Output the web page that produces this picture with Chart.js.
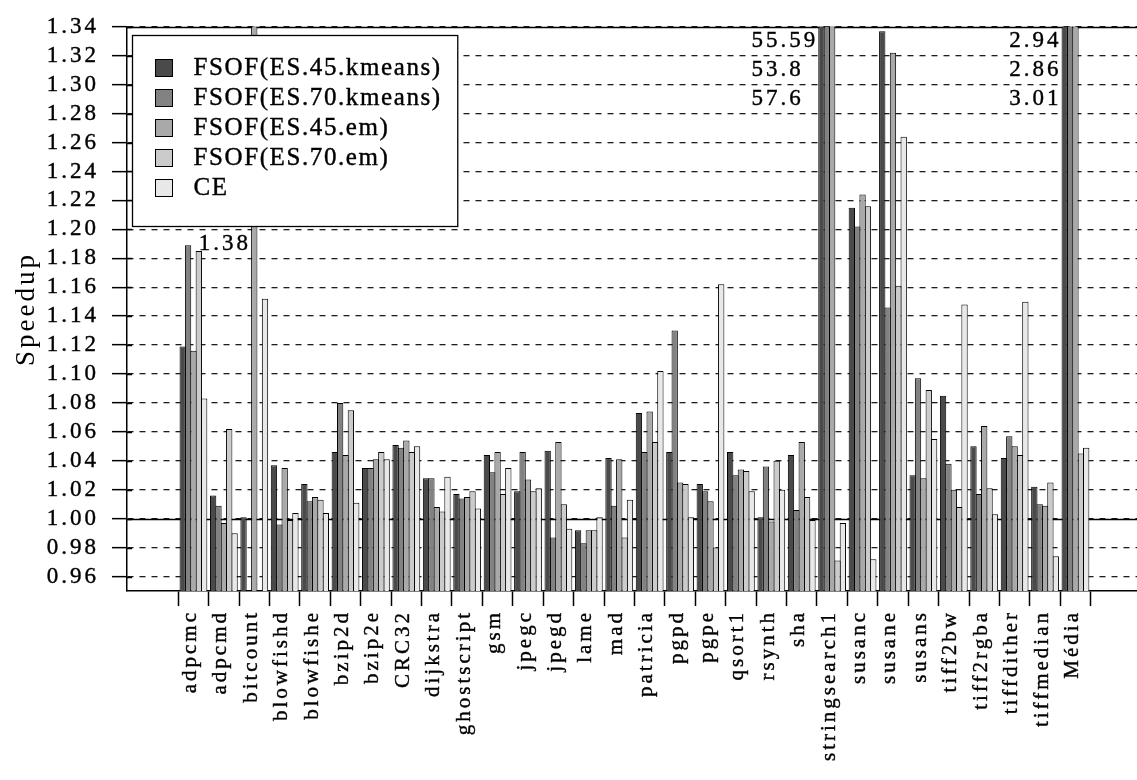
<!DOCTYPE html>
<html>
<head>
<meta charset="utf-8">
<title>Speedup</title>
<script src="https://cdn.jsdelivr.net/npm/chart.js@4/dist/chart.umd.min.js"></script>
<style>
  html, body { margin: 0; padding: 0; background: #ffffff; }
  canvas { display: block; }
</style>
</head>
<body>
<canvas id="chart" width="1137" height="780"></canvas>
<script>
// Benchmarks on the x axis
const categories = [
  'adpcmc', 'adpcmd', 'bitcount', 'blowfishd', 'blowfishe', 'bzip2d', 'bzip2e',
  'CRC32', 'dijkstra', 'ghostscript', 'gsm', 'jpegc', 'jpegd', 'lame', 'mad',
  'patricia', 'pgpd', 'pgpe', 'qsort1', 'rsynth', 'sha', 'stringsearch1',
  'susanc', 'susane', 'susans', 'tiff2bw', 'tiff2rgba', 'tiffdither',
  'tiffmedian', 'Média'
];

const seriesNames = [
  'FSOF(ES.45.kmeans)',
  'FSOF(ES.70.kmeans)',
  'FSOF(ES.45.em)',
  'FSOF(ES.70.em)',
  'CE'
];

// Speedup per benchmark (null = no bar)
const es45kmeans = [1.119, 1.016, 1.001, 1.037, 1.024, 1.046, 1.035, 1.051, 1.028, 1.017,
  1.044, 1.019, 1.047, 0.992, 1.042, 1.073, 1.046, 1.024, 1.046, 1.001,
  1.044, 55.59, 1.215, 1.337, 1.030, 1.085, 1.050, 1.042, 1.022, 2.94];
const es70kmeans = [1.189, 1.009, null, 0.996, 1.012, 1.080, 1.035, 1.049, 1.028, 1.014,
  1.032, 1.046, 0.987, 0.983, 1.009, 1.046, 1.130, 1.019, 1.030, 1.036,
  1.006, 53.8, 1.202, 1.146, 1.097, 1.038, 1.017, 1.057, 1.010, 2.86];
const es45em = [1.116, 0.997, 1.38, 1.035, 1.015, 1.044, 1.041, 1.054, 1.008, 1.015,
  1.046, 1.027, 1.053, 0.992, 1.041, 1.074, 1.025, 1.012, 1.034, 0.998,
  1.053, 57.6, 1.224, 1.322, 1.028, 1.020, 1.064, 1.050, 1.009, 3.01];
const es70em = [1.185, 1.062, null, 0.999, 1.013, 1.075, 1.046, 1.046, 1.005, 1.019,
  1.017, 1.019, 1.010, 0.992, 0.987, 1.053, 1.024, 0.980, 1.033, 1.040,
  1.015, 0.971, 1.216, 1.161, 1.089, 1.008, 1.021, 1.044, 1.025, 1.045];
const ce = [1.083, 0.990, 1.152, 1.004, 1.004, 1.011, 1.041, 1.050, 1.029, 1.007,
  1.035, 1.021, 0.993, 1.001, 1.013, 1.102, 1.001, 1.162, 1.019, 1.020,
  0.999, 0.997, 0.972, 1.264, 1.055, 1.148, 1.003, 1.150, 0.974, 1.049];

// Y axis tick labels
const yTickValues = [0.96, 0.98, 1.00, 1.02, 1.04, 1.06, 1.08, 1.10, 1.12, 1.14,
  1.16, 1.18, 1.20, 1.22, 1.24, 1.26, 1.28, 1.30, 1.32, 1.34];

const series = [es45kmeans, es70kmeans, es45em, es70em, ce];
const fills = ['#4a4a4a', '#828282', '#a9a9a9', '#cbcbcb', '#e8e8e8'];

const FONT_FAMILY = '"Liberation Serif", "DejaVu Serif", serif';
const TEXT_SPACING = '3px';
const TEXT_STROKE = 0.4;

Chart.defaults.font.family = FONT_FAMILY;
Chart.defaults.font.size = 23;
Chart.defaults.color = '#000';

// Wide letter spacing for the axis text
const letterSpacing = {
  id: 'letterSpacing',
  beforeUpdate(chart) { chart.ctx.letterSpacing = TEXT_SPACING; },
  beforeDraw(chart) { chart.ctx.letterSpacing = TEXT_SPACING; }
};

// Text drawn with a thin outline so it reads a little heavier
function drawText(ctx, text, x, y) {
  ctx.lineWidth = TEXT_STROKE;
  ctx.strokeStyle = '#000';
  ctx.strokeText(text, x, y);
  ctx.fillText(text, x, y);
}

// Solid baseline at 1.00, top frame line and inner tick stubs
const frameLines = {
  id: 'frameLines',
  beforeDatasetsDraw(chart) {
    const { ctx, chartArea: a, scales: { y } } = chart;
    ctx.save();
    ctx.strokeStyle = '#000';
    ctx.lineWidth = 1.5;
    ctx.setLineDash([]);
    for (const v of [1.00, y.max]) {
      const py = Math.round(y.getPixelForValue(v)) + 0.5;
      ctx.beginPath();
      ctx.moveTo(a.left, py);
      ctx.lineTo(a.right, py);
      ctx.stroke();
    }
    y.ticks.forEach(t => {
      const py = Math.round(y.getPixelForValue(t.value)) + 0.5;
      ctx.beginPath();
      ctx.moveTo(a.left, py);
      ctx.lineTo(a.left + 5, py);
      ctx.stroke();
    });
    ctx.restore();
  }
};

// Value labels for bars that run past the top of the axis
const overflowRowStart = { bitcount: 1.19 };
const overflowLabels = {
  id: 'overflowLabels',
  afterDatasetsDraw(chart) {
    const { ctx, scales: { y } } = chart;
    ctx.save();
    ctx.font = '23px ' + FONT_FAMILY;
    ctx.letterSpacing = TEXT_SPACING;
    ctx.fillStyle = '#000';
    ctx.textAlign = 'left';
    ctx.textBaseline = 'middle';
    categories.forEach((cat, j) => {
      const over = [];
      chart.data.datasets.forEach((ds, s) => {
        const v = ds.data[j].y;
        if (v != null && v > y.max) {
          over.push({ v, bar: chart.getDatasetMeta(s).data[j] });
        }
      });
      if (!over.length) return;
      const texts = over.map(o => String(o.v));
      const w = Math.max(...texts.map(t => ctx.measureText(t).width));
      const anchor = over[0].bar.x - over[0].bar.width / 2;
      const left = anchor - w;
      const start = overflowRowStart[cat] ?? 1.33;
      texts.forEach((t, k) => {
        drawText(ctx, t, left, y.getPixelForValue(start - 0.02 * k));
      });
    });
    ctx.restore();
  }
};

// Boxed legend drawn inside the plot, above the bars
const boxLegend = {
  id: 'boxLegend',
  afterDatasetsDraw(chart) {
    const { ctx, chartArea: a } = chart;
    const items = chart.data.datasets;
    ctx.save();
    ctx.font = '25px ' + FONT_FAMILY;
    ctx.letterSpacing = '1.6px';
    const textW = Math.max(...items.map(d => ctx.measureText(d.label).width));
    const x0 = Math.round(a.left + 5) + 0.5;
    const y0 = Math.round(a.top + 8) + 0.5;
    const sw = 17, rowH = 30;
    const w = 22 + sw + 22 + textW + 16;
    const h = 31.7 + rowH * (items.length - 1) + 39.3;
    ctx.fillStyle = '#fff';
    ctx.fillRect(x0, y0, w, h);
    ctx.strokeStyle = '#000';
    ctx.lineWidth = 1.3;
    ctx.strokeRect(x0, y0, w, h);
    ctx.textAlign = 'left';
    ctx.textBaseline = 'middle';
    items.forEach((d, k) => {
      const cy = y0 + 31.7 + rowH * k;
      const sx = Math.round(x0 + 22) + 0.5;
      const sy = Math.round(cy - sw / 2) + 0.5;
      ctx.fillStyle = d.backgroundColor;
      ctx.fillRect(sx, sy, sw, sw);
      ctx.lineWidth = 1;
      ctx.strokeStyle = '#000';
      ctx.strokeRect(sx, sy, sw, sw);
      ctx.fillStyle = '#000';
      drawText(ctx, d.label, x0 + 61, cy + 1);
    });
    ctx.restore();
  }
};

const datasets = series.map((vals, s) => ({
  label: seriesNames[s],
  data: vals.map((v, i) => ({ x: i, y: v })),
  backgroundColor: fills[s],
  borderColor: '#000',
  borderWidth: 1,
  borderSkipped: 'bottom',
  categoryPercentage: 0.882,
  barPercentage: 1.18,
  clip: 0
}));

new Chart(document.getElementById('chart'), {
  type: 'bar',
  data: { datasets },
  plugins: [letterSpacing, frameLines, overflowLabels, boxLegend],
  options: {
    responsive: false,
    animation: false,
    devicePixelRatio: 1,
    layout: { padding: { top: 17, right: 0, bottom: 0, left: 0 } },
    plugins: {
      legend: { display: false },
      tooltip: { enabled: false },
      title: { display: false }
    },
    scales: {
      x: {
        type: 'linear',
        min: -1.631,
        max: 30.47,
        afterBuildTicks(scale) {
          scale.ticks = categories.map((_, i) => ({ value: i }));
        },
        afterFit(scale) { scale.height = 189; },
        ticks: {
          autoSkip: false,
          minRotation: 90,
          maxRotation: 90,
          padding: 4,
          labelOffset: -3,
          color: '#000',
          textStrokeColor: '#000',
          textStrokeWidth: TEXT_STROKE,
          font: { size: 21 },
          callback: v => categories[v] ?? ''
        },
        grid: {
          drawOnChartArea: false,
          drawTicks: true,
          tickLength: 15,
          tickColor: '#000',
          tickWidth: 1.5
        },
        border: { color: '#000', width: 1.5 }
      },
      y: {
        min: 0.95,
        max: 1.34,
        afterBuildTicks(scale) {
          scale.ticks = yTickValues.map(v => ({ value: v }));
        },
        afterFit(scale) { scale.width = 127; },
        ticks: {
          autoSkip: false,
          padding: 13,
          color: '#000',
          textStrokeColor: '#000',
          textStrokeWidth: TEXT_STROKE,
          font: { size: 23 },
          callback: v => v.toFixed(2)
        },
        grid: {
          color: '#1e1e1e',
          lineWidth: 1.3,
          tickLength: 15,
          tickColor: '#000',
          tickWidth: 1.5
        },
        border: { color: '#000', width: 1.5, dash: [6, 6] },
        title: {
          display: true,
          text: 'Speedup',
          color: '#000',
          font: { size: 27 },
          padding: { top: 11, bottom: 0 }
        }
      }
    }
  }
});
</script>
</body>
</html>
